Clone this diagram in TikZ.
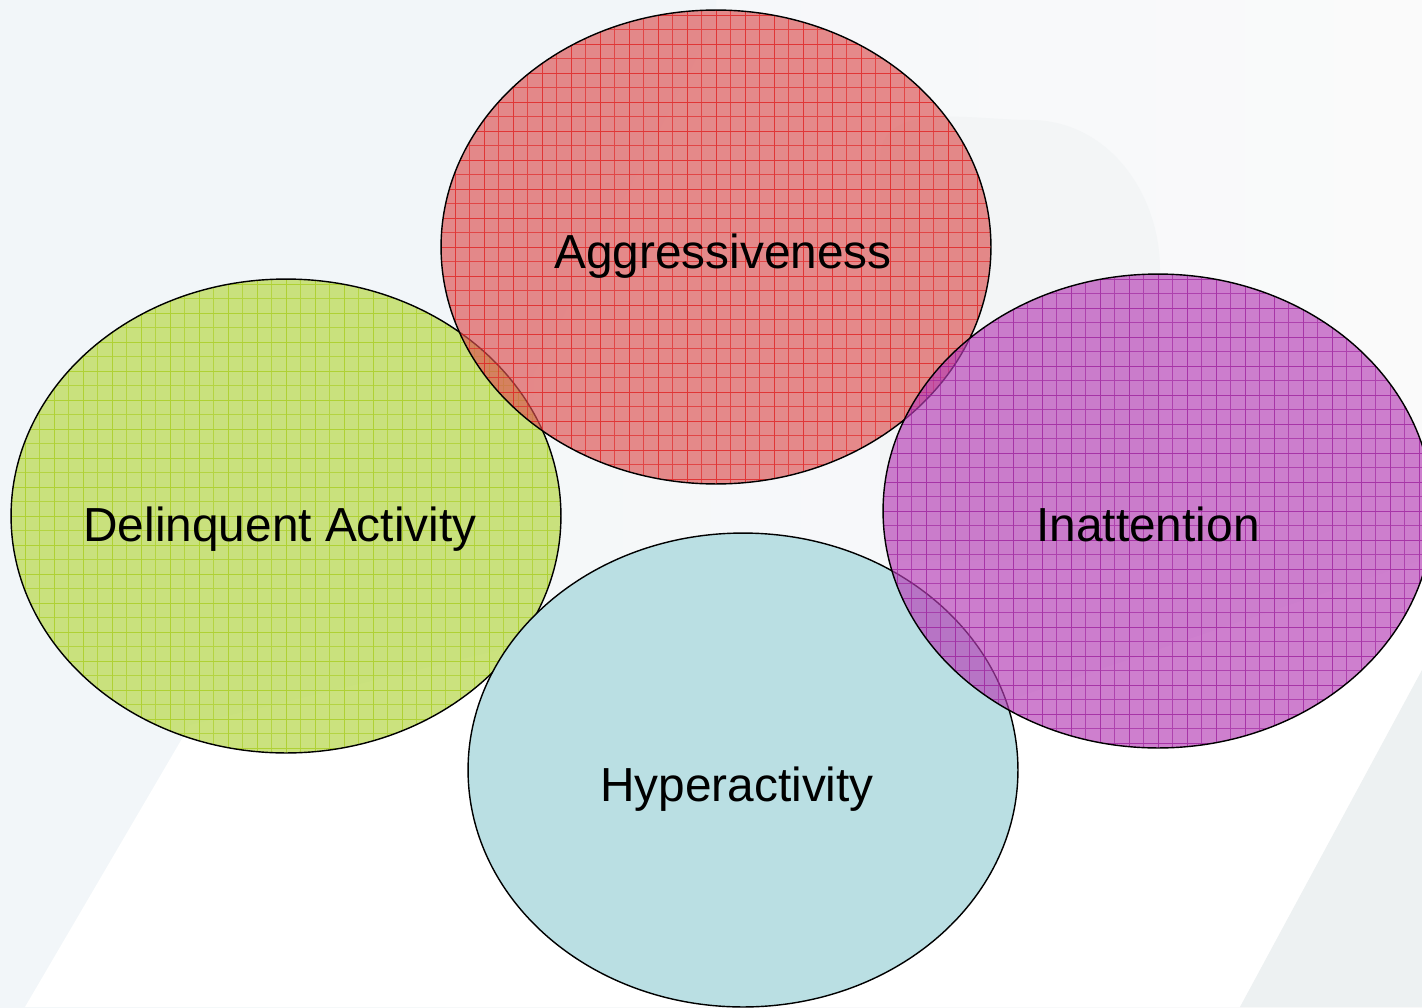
\documentclass[tikz,border=0pt]{standalone}
\usepackage{fontspec}
\setmainfont{Liberation Sans}
\usetikzlibrary{shapes.geometric}

\definecolor{bgblue}{HTML}{F2F6F9}
\definecolor{bgwhite}{HTML}{FAFAFA}
\definecolor{bggray}{HTML}{EDF1F2}
\definecolor{aggrfill}{HTML}{DC5050}
\definecolor{aggrline}{HTML}{E01A1A}
\definecolor{delifill}{HTML}{C2DE68}
\definecolor{deliline}{HTML}{A6CC1C}
\definecolor{inatfill}{HTML}{B63EB6}
\definecolor{inatline}{HTML}{9A1C9A}
\definecolor{hypefill}{HTML}{BADFE3}

\begin{document}
\begin{tikzpicture}[x=0.02cm,y=-0.02cm]
	\tikzset{
		blob/.style={ellipse, draw=black, line width=0.8pt, inner sep=0pt,
			minimum width=11cm, minimum height=9.48cm},
		gridded/.style={path picture={
			\draw [#1, draw opacity=0.6, line width=0.3pt] (path picture bounding box.south west) grid [step=0.29cm] (path picture bounding box.north east);
			\draw [#1, draw opacity=0.35, line width=0.5pt] (path picture bounding box.south west) grid [step=0.58cm] (path picture bounding box.north east);
		}},
		tag/.style={anchor=base, inner sep=0pt, font=\fontsize{27.2}{32}\selectfont}
	}
	\useasboundingbox (0,0) rectangle (1422,1007);
	\clip (0,0) rectangle (1422,1007);
	\shade [left color=bgblue, right color=bgwhite] (0,0) rectangle (1422,1007);
	\fill [bgblue] (0,0) -- (716,0) -- (716,20) -- (520,400) -- (440,700) -- (190,725) -- (25,1007) -- (0,1007) -- cycle;
	\fill [white] (25,1007) -- (190,725) -- (500,650) -- (980,690) -- (1010,700) -- (1422,560) -- (1422,670) -- (1240,1007) -- cycle;
	\fill [bggray] (1422,670) -- (1240,1007) -- (1422,1007) -- cycle;
	\fill [bggray!70] (880,560) -- (880,160) to[out=90,in=180] (1030,120) to[out=0,in=90] (1160,270) -- (1160,560) -- cycle;
	\node [blob, fill=delifill, fill opacity=0.85, gridded=deliline] (deli) at (286,516) {};
	\node [blob, fill=aggrfill, fill opacity=0.66, gridded=aggrline] (aggr) at (716,247) {};
	\node [blob, fill=hypefill] (hype) at (743,770) {};
	\node [blob, fill=inatfill, fill opacity=0.66, gridded=inatline] (inat) at (1158,511) {};
	\node [tag] (aggr-t) at ([shift={(7,21)}]aggr.center) {Aggressiveness};
	\node [tag] (deli-t) at ([shift={(-6,25)}]deli.center) {Delinquent Activity};
	\node [tag] (inat-t) at ([shift={(-10,30)}]inat.center) {Inattention};
	\node [tag] (hype-t) at ([shift={(-6,31)}]hype.center) {Hyperactivity};
\end{tikzpicture}
\end{document}
